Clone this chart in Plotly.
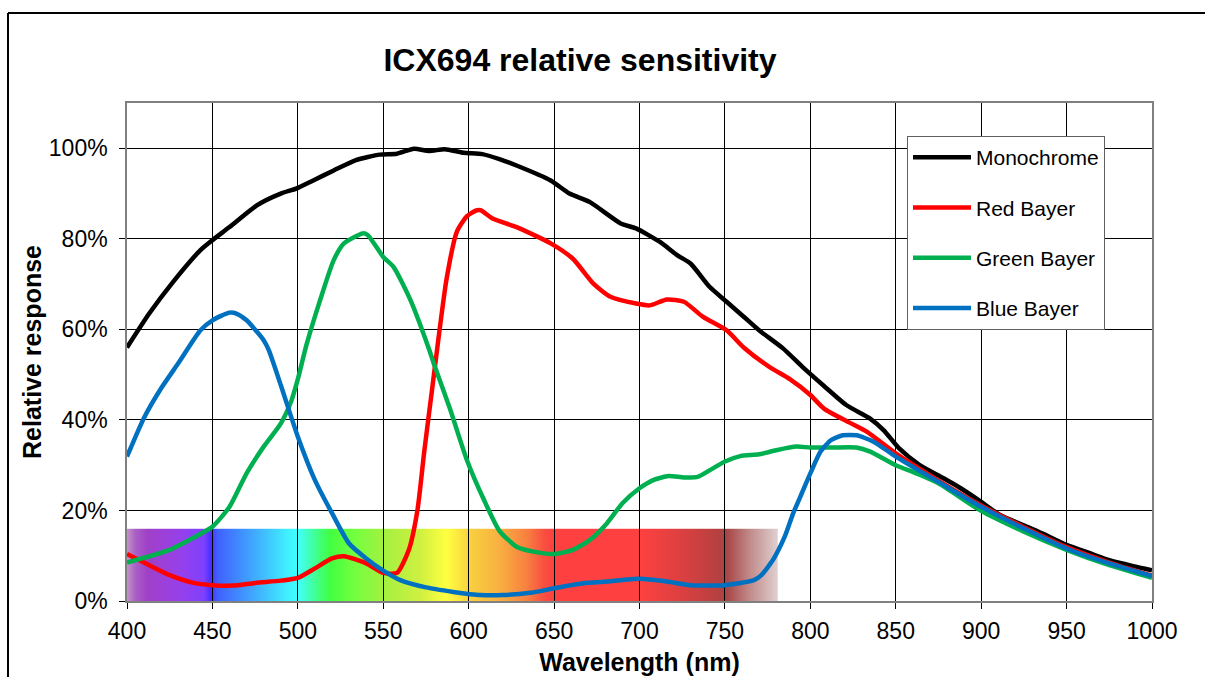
import base64
import plotly.graph_objects as go

# ---------------- data ----------------
mono_nm = [400, 413, 427, 443, 450, 460, 476, 490, 499, 509, 521, 534, 548, 558, 568, 577, 586, 597,
           608, 618, 628, 648, 659, 671, 689, 698, 712, 722, 730, 741, 751, 761, 770, 784, 796, 808,
           821, 835, 843, 852, 864, 878, 888, 900, 911, 927, 936, 950, 964, 975, 989, 1000]
mono_val = [56, 63.5, 70.5, 77.5, 79.7, 82.6, 87.4, 90, 91.1, 92.9, 95.1, 97.4, 98.6, 98.8, 99.9, 99.4, 99.8, 99.0,
            98.7, 97.6, 96.2, 92.9, 90, 88.1, 83.4, 82.3, 79.3, 76.4, 74.5, 69.4, 66.1, 62.8, 59.8, 55.8, 51.5, 47.5,
            43.3, 40.3, 37.7, 33.7, 30, 27.1, 24.9, 21.9, 19, 16.4, 14.9, 12.4, 10.5, 9, 7.7, 6.8]

red_nm = [400, 411, 425, 439, 450, 462, 475, 490, 500, 510, 520, 527, 540, 550, 558, 565, 570, 574, 579,
          582, 587, 593, 599, 604, 607, 614, 628, 648, 661, 673, 683, 698, 706, 716, 726, 737, 751, 761,
          776, 788, 800, 808, 823, 833, 850, 875, 900, 925, 950, 975, 1000]
red_val = [10.4, 8.3, 5.7, 4.0, 3.5, 3.4, 4.0, 4.5, 5.1, 7.2, 9.4, 9.9, 8.3, 6.2, 6.2, 11.3, 20, 33, 48,
           57, 71, 81.5, 85, 86.2, 86.3, 84.5, 82.6, 79, 75.6, 70.1, 67.2, 65.7, 65.3, 66.6, 66.1, 62.8, 59.8, 56,
           51.7, 49, 45.5, 42.5, 39.4, 37.4, 32.6, 26.6, 21.1, 16.3, 11.9, 8.5, 5.6]

green_nm = [400, 425, 440, 450, 460, 470, 480, 490, 496, 500, 505, 513, 521, 527, 538, 541, 550, 556, 566, 577,
            580, 589, 599, 609, 618, 628, 638, 650, 661, 671, 681, 690, 700, 708, 717, 726, 734, 743, 750,
            759, 770, 780, 792, 800, 813, 827, 835, 850, 862, 875, 900, 925, 950, 975, 1000]
green_val = [8.5, 11.3, 14.2, 16.4, 20.8, 28.2, 34.1, 39.2, 44, 49, 56.5, 66.4, 75.3, 79, 81.2, 80.8, 76, 73.8, 66.4, 55.4,
             52, 42.5, 31.1, 22.3, 15.5, 12, 10.9, 10.4, 11.3, 13.5, 17.2, 21.6, 24.9, 26.7, 27.6, 27.3, 27.4, 29.3, 30.8,
             32, 32.4, 33.3, 34.1, 33.9, 33.9, 33.9, 33, 30, 28.2, 26, 19.9, 15.3, 11.3, 7.9, 5.1]

blue_nm = [400, 410, 420, 430, 443, 450, 460, 464, 470, 480, 483, 490, 500, 510, 520, 530, 540, 550,
           560, 575, 591, 601, 607, 620, 636, 650, 667, 681, 700, 716, 730, 750, 767, 771, 778, 785, 790,
           795, 800, 806, 812, 819, 827, 837, 850, 875, 900, 925, 950, 975, 1000]
blue_val = [31.9, 40.5, 47, 52.5, 59.8, 62, 63.7, 63.5, 62, 57.6, 55.4, 47.7, 36.3, 26.7, 19.4, 12.7, 9.4, 6.7,
            4.6, 3.0, 2.0, 1.5, 1.3, 1.3, 1.8, 2.8, 3.9, 4.3, 4.9, 4.3, 3.5, 3.5, 4.6, 5.6, 9, 14.2, 19.4,
            23.8, 28.2, 33, 35.5, 36.6, 36.6, 35.2, 31.9, 26.3, 20.8, 16, 11.6, 8.3, 5.5]

series_names = ["Monochrome", "Red Bayer", "Green Bayer", "Blue Bayer"]
series_colors = ["#000000", "#ff0000", "#00b050", "#0070c0"]

# visible-spectrum band (wavelength stops and colours)
spectrum_nm = [400, 405, 412, 430, 445, 449, 453, 474, 494, 500, 509, 519, 532, 552, 572, 587,
               601, 618, 634, 644, 650, 700, 722, 745, 751, 764, 781]
spectrum_colors = ["#c492c8", "#a860c4", "#a040c8", "#9840e8", "#8040ff", "#4830ff", "#4060ff", "#40a8ff",
                   "#40f0ff", "#40ffff", "#40ffa0", "#40ff40", "#70ff40", "#a8f040", "#d0f040", "#ffff40",
                   "#f8d040", "#f8b040", "#f88040", "#f85040", "#ff4040", "#ff4040", "#e04040", "#b84040",
                   "#a84545", "#c08888", "#e0d0d0"]
spectrum_top = 16

x_ticks = [400, 450, 500, 550, 600, 650, 700, 750, 800, 850, 900, 950, 1000]
y_ticks = [0, 20, 40, 60, 80, 100]
y_tick_labels = [f"{v}%" for v in y_ticks]

FONT = "Arial, 'Liberation Sans', sans-serif"
W, H = 1205, 677

fig = go.Figure()
for name, col, xs, ys in zip(series_names, series_colors,
                             [mono_nm, red_nm, green_nm, blue_nm],
                             [mono_val, red_val, green_val, blue_val]):
    fig.add_trace(go.Scatter(x=xs, y=ys, name=name, mode="lines",
                             line=dict(color=col, width=4.5, shape="spline", smoothing=0.6),
                             legendgroup=name))

# spectrum gradient as an SVG image placed in data coordinates
span = spectrum_nm[-1] - spectrum_nm[0]
stops = "".join(f'<stop offset="{(n - spectrum_nm[0]) / span:.4f}" stop-color="{c}"/>'
                for n, c in zip(spectrum_nm, spectrum_colors))
svg = ('<svg xmlns="http://www.w3.org/2000/svg" width="400" height="40" viewBox="0 0 400 40" '
       'preserveAspectRatio="none"><defs><linearGradient id="g" x1="0" y1="0" x2="1" y2="0">'
       + stops + '</linearGradient></defs><rect width="400" height="40" fill="url(#g)"/></svg>')
src = "data:image/svg+xml;base64," + base64.b64encode(svg.encode()).decode()
fig.add_layout_image(dict(source=src, xref="x", yref="y", x=spectrum_nm[0], y=spectrum_top,
                          sizex=span, sizey=spectrum_top, xanchor="left", yanchor="top",
                          sizing="stretch", layer="below"))

# outer chart frame (top and left edges; the others run off the picture)
frame_left = (8 - 127) / 1025
frame_top = (601 - 13) / 498
fig.add_shape(type="line", xref="paper", yref="paper", x0=frame_left, x1=1.3, y0=frame_top, y1=frame_top,
              line=dict(color="#000000", width=2))
fig.add_shape(type="line", xref="paper", yref="paper", x0=frame_left, x1=frame_left, y0=-0.3, y1=frame_top,
              line=dict(color="#000000", width=2))

fig.update_layout(
    width=W, height=H,
    margin=dict(l=127, r=53, t=103, b=76, autoexpand=False),
    paper_bgcolor="white", plot_bgcolor="white",
    font=dict(family=FONT, color="#000000"),
    title=dict(text="ICX694 relative sensitivity", x=580 / W, xanchor="center",
               y=1 - 60 / H, yanchor="middle", xref="container", yref="container",
               font=dict(size=32, family=FONT, weight=700)),
    legend=dict(x=(907 - 127) / 1025, y=(601 - 136) / 498, xanchor="left", yanchor="top",
                bgcolor="white", bordercolor="#606060", borderwidth=1,
                font=dict(size=21, family=FONT), tracegroupgap=20, traceorder="grouped",
                itemwidth=58),
    showlegend=True,
)
fig.update_xaxes(range=[400, 1000], tickvals=x_ticks, ticktext=[str(v) for v in x_ticks],
                 showgrid=True, gridcolor="#000000", gridwidth=1, automargin=False,
                 showline=True, linecolor="#808080", linewidth=1.5, mirror=True,
                 ticks="outside", ticklen=6, tickcolor="#000000", ticklabelstandoff=3,
                 tickfont=dict(size=23, family=FONT),
                 title=dict(text="Wavelength (nm)", font=dict(size=25, family=FONT, weight=700), standoff=10),
                 zeroline=False)
fig.update_yaxes(range=[0, 110], tickvals=y_ticks, ticktext=y_tick_labels,
                 showgrid=True, gridcolor="#000000", gridwidth=1, automargin=False,
                 showline=True, linecolor="#808080", linewidth=1.5, mirror=True,
                 ticks="outside", ticklen=6, tickcolor="#000000", ticklabelstandoff=7,
                 tickfont=dict(size=23, family=FONT),
                 title=dict(text="Relative response", font=dict(size=25, family=FONT, weight=700), standoff=0),
                 zeroline=False)

# place the figure at the page origin (no default body margin / scrollbars), no mode bar
fig.write_html("out.html", config={"displayModeBar": False},
               post_script="document.body.style.margin='0';document.body.style.overflow='hidden';")
